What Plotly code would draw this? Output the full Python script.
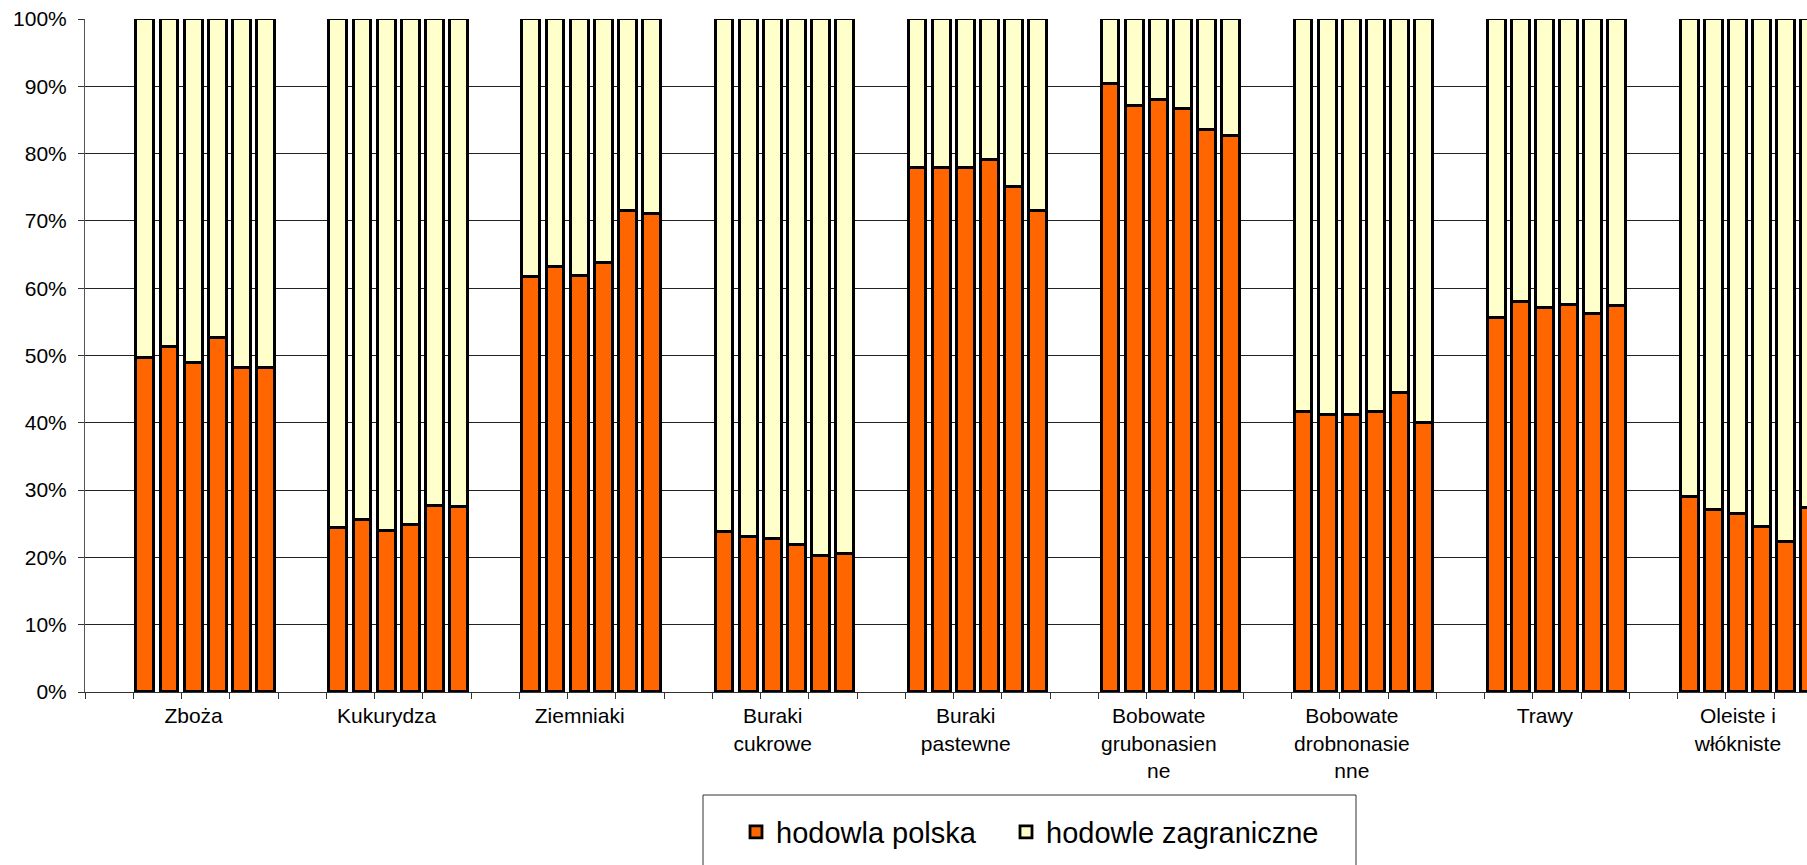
import plotly.graph_objects as go

# ---- data ----
categories = [
    "Zboża", "Kukurydza", "Ziemniaki", "Buraki<br>cukrowe", "Buraki<br>pastewne",
    "Bobowate<br>grubonasien<br>ne", "Bobowate<br>drobnonasie<br>nne", "Trawy",
    "Oleiste i<br>włókniste",
]
series_names = ["hodowla polska", "hodowle zagraniczne"]
# share of Polish breeding (%) - six bars per crop group
polska = [
    [49.7, 51.3, 48.9, 52.6, 48.1, 48.2],   # Zboża
    [24.4, 25.5, 23.9, 24.8, 27.7, 27.5],   # Kukurydza
    [61.7, 63.2, 61.8, 63.8, 71.4, 71.1],   # Ziemniaki
    [23.8, 23.1, 22.7, 21.8, 20.2, 20.5],   # Buraki cukrowe
    [77.8, 77.8, 77.8, 79.0, 75.1, 71.5],   # Buraki pastewne
    [90.3, 87.1, 88.0, 86.7, 83.5, 82.6],   # Bobowate grubonasienne
    [41.6, 41.2, 41.2, 41.6, 44.4, 40.0],   # Bobowate drobnonasienne
    [55.5, 58.0, 57.0, 57.5, 56.1, 57.4],   # Trawy
    [29.0, 27.1, 26.5, 24.5, 22.3, 27.4],   # Oleiste i włókniste
]
y_ticks = [0, 10, 20, 30, 40, 50, 60, 70, 80, 90, 100]
y_ticktext = [f"{v}%" for v in y_ticks]

# ---- layout of slots: each group = 2 empty slots + 6 bars ----
GROUP = 8
x_pos, y_pl, y_zg = [], [], []
for g, vals in enumerate(polska):
    for j, v in enumerate(vals):
        x_pos.append(g * GROUP + 2 + j)
        y_pl.append(v)
        y_zg.append(100 - v)
label_pos = [g * GROUP + 4 for g in range(len(categories))]
minor_ticks = [-0.5 + 2 * n for n in range(37)]

FONT = "Liberation Sans, Arial, sans-serif"
ORANGE = "#FF6600"
CREAM = "#FFFFCC"
BAR_W = 0.74
EDGE = 2.8

fig = go.Figure()
fig.add_trace(go.Bar(x=x_pos, y=y_pl, name=series_names[0], width=BAR_W,
                     marker=dict(color=ORANGE, line=dict(color="black", width=EDGE)),
                     legend="legend"))
fig.add_trace(go.Bar(x=x_pos, y=y_zg, name=series_names[1], width=BAR_W,
                     marker=dict(color=CREAM, line=dict(color="black", width=EDGE)),
                     legend="legend2"))

W, H = 1807, 865
ml, mr, mt, mb = 85, 0, 19, 173
plot_w = W - ml - mr
plot_h = H - mt - mb

def px_x(px):
    return (px - ml) / plot_w

def px_y(py):
    return (H - mb - py) / plot_h

def cx(px):
    return px / W

def cy(py):
    return 1 - py / H

legend_common = dict(
    orientation="h",
    xref="container", yref="container",
    xanchor="left", yanchor="middle",
    font=dict(family=FONT, size=29, color="black"),
    bgcolor="rgba(0,0,0,0)",
    borderwidth=0,
)

fig.update_layout(
    width=W, height=H,
    barmode="stack",
    bargap=0,
    plot_bgcolor="white", paper_bgcolor="white",
    margin=dict(l=ml, r=mr, t=mt, b=mb, autoexpand=False),
    font=dict(family=FONT, size=21, color="black"),
    showlegend=True,
    legend=dict(x=cx(736), y=cy(832), **legend_common),
    legend2=dict(x=cx(1006), y=cy(832), **legend_common),
    xaxis=dict(
        range=[-0.5, -0.5 + plot_w / 24.13],
        tickmode="array", tickvals=label_pos, ticktext=categories,
        ticks="", showgrid=False, zeroline=False, automargin=False,
        showline=True, linecolor="#333333", linewidth=1,
        ticklabelstandoff=5,
        tickfont=dict(family=FONT, size=21, color="black"),
        minor=dict(tickmode="array", tickvals=minor_ticks, ticks="outside",
                   ticklen=6, tickcolor="#333333", tickwidth=1, showgrid=False),
    ),
    yaxis=dict(
        range=[0, 100], automargin=False,
        tickmode="array", tickvals=y_ticks, ticktext=y_ticktext,
        ticks="outside", ticklen=6, tickcolor="#333333",
        ticklabelstandoff=7,
        showgrid=True, gridcolor="#222222", gridwidth=1,
        zeroline=False,
        showline=True, linecolor="#555555", linewidth=1,
        tickfont=dict(family=FONT, size=21, color="black"),
    ),
    shapes=[dict(type="rect", xref="paper", yref="paper",
                 x0=px_x(703), x1=px_x(1356), y0=px_y(795), y1=px_y(900),
                 line=dict(color="#333333", width=1), fillcolor="rgba(0,0,0,0)",
                 layer="above")],
)

fig.write_html("out.html",
               config={"displayModeBar": False},
               post_script="document.body.style.margin='0';document.body.style.overflow='hidden';")
